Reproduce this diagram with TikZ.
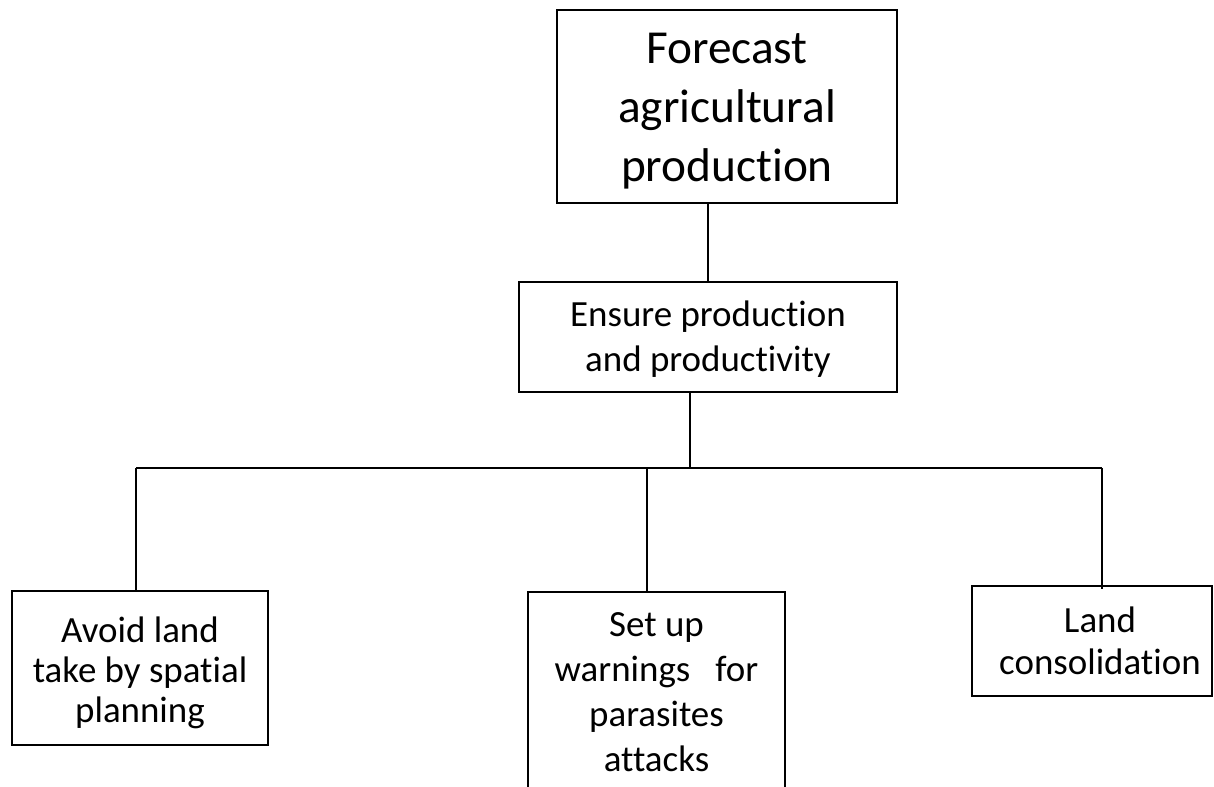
\documentclass[tikz,border=0pt]{standalone}
\usepackage{fontspec}
\setmainfont{Carlito}[Ligatures={NoCommon}]
\begin{document}
\begin{tikzpicture}[x=0.75pt,y=-0.75pt,
  box/.style={draw=black,line width=1.4pt,inner sep=0pt,anchor=center},
  txt/.style={inner sep=0pt,align=center,anchor=center},
  big/.style={font=\fontsize{35.5}{44}\selectfont},
  med/.style={font=\fontsize{27.7}{33.75}\selectfont},
  thin/.style={line width=1.4pt},
  thick2/.style={line width=2.2pt}]
\useasboundingbox (0,0) rectangle (1214,787);
% boxes
\node[box,minimum width=255pt,minimum height=144.75pt] (top) at (727,106.5) {};
\node[box,minimum width=283.5pt,minimum height=82.5pt] (mid) at (708,337) {};
\node[box,minimum width=192pt,minimum height=115.5pt] (avoid) at (140,668) {};
\node[box,minimum width=192.75pt,minimum height=154.5pt] (setup) at (656.5,695) {};
\node[box,minimum width=180pt,minimum height=82.5pt] (land) at (1092,641) {};
% texts
\node[txt,big] (topt) at (727,111) {Forecast\\agricultural\\production};
\node[txt,med] (midt) at (708,339) {Ensure production\\and productivity};
\node[txt,font=\fontsize{27.7}{30}\selectfont] (avoidt) at (140,673) {Avoid land\\take by spatial\\planning};
\node[txt,med] (setupt) at (656.5,692) {Set up\\warnings\ \ \ for\\parasites\\attacks};
\node[txt,font=\fontsize{27.7}{31.5}\selectfont] (landt) at (1100,641) {Land\\consolidation};
% connectors
\coordinate (j) at (690,468);
\coordinate (hl) at (136,468);
\coordinate (hr) at (1102,468);
\coordinate (hs) at (647,468);
\draw[thick2] (mid.north) -- (mid.north |- top.south);
\draw[thin] (mid.south -| j) -- (j);
\draw[thin] (hl) -- (hr);
\draw[thin] (hl) -- (hl |- avoid.north);
\draw[thick2] (hs) -- (hs |- setup.north);
\draw[thin] (hr) -- ([yshift=-3pt]hr |- land.north);
\end{tikzpicture}
\end{document}
